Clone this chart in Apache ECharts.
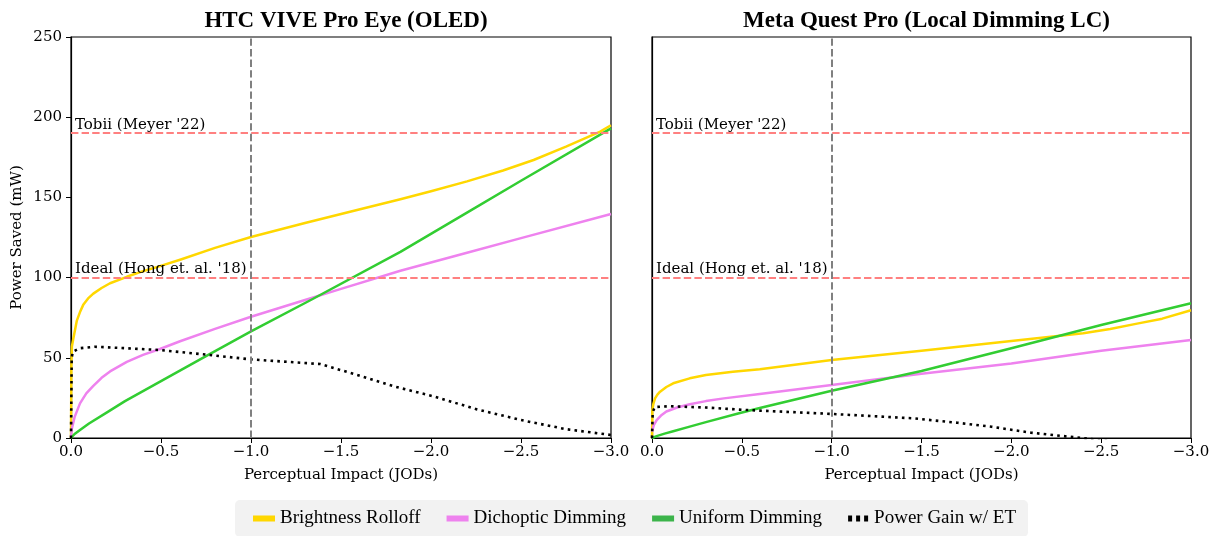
<!DOCTYPE html>
<html>
<head>
<meta charset="utf-8">
<script src="https://cdn.jsdelivr.net/npm/echarts@6/dist/echarts.min.js"></script>
<style>
html,body{margin:0;padding:0;background:#fff;}
#chart{width:1214px;height:536px;}
</style>
</head>
<body>
<div id="chart"></div>
<script>
// ---------- data ----------
const panelTitles = ['HTC VIVE Pro Eye (OLED)', 'Meta Quest Pro (Local Dimming LC)'];
const seriesNames = ['Brightness Rolloff', 'Dichoptic Dimming', 'Uniform Dimming', 'Power Gain w/ ET'];
const xMin = -3, xMax = 0, xStep = 0.5;
const yMin = 0, yMax = 250, yStep = 50;
const tobiiLevel = 190;
const idealLevel = 100;
const jodMark = -1.0;
const tobiiLabel = "Tobii (Meyer '22)";
const idealLabel = "Ideal (Hong et. al. '18)";

// HTC VIVE Pro Eye
const htcRolloff = [[0,0],[-0.002,45],[-0.005,57],[-0.013,62],[-0.032,73],[-0.05,78.5],[-0.068,83],[-0.095,87],[-0.124,90],[-0.17,93.5],[-0.217,96.5],[-0.31,100.5],[-0.4,104],[-0.49,107],[-0.61,111.3],[-0.8,118.5],[-1.0,125.3],[-1.3,134],[-1.606,142.6],[-1.83,148.8],[-2.0,153.8],[-2.2,160],[-2.4,166.8],[-2.57,173.3],[-2.75,181.6],[-2.94,191],[-3.0,195]];
const htcDichoptic = [[0,1],[-0.005,6],[-0.02,13],[-0.05,21.6],[-0.085,27.8],[-0.124,32.5],[-0.17,37.5],[-0.217,41.5],[-0.31,47.5],[-0.40,51.8],[-0.494,55.5],[-0.606,60.3],[-0.8,68],[-1.0,75.6],[-1.3,86],[-1.5,93],[-1.83,104.3],[-2.2,115.5],[-2.5,124.6],[-3.0,139.7]];
const htcUniform = [[0,0],[-0.02,2.5],[-0.05,5],[-0.1,9],[-0.2,16],[-0.3,23],[-0.5,35.5],[-0.75,51],[-1.0,66.5],[-1.34,86.5],[-1.83,116],[-2.2,140.5],[-2.5,160.4],[-3.0,193]];
const htcGain = [[0,0],[-0.004,50],[-0.01,53.8],[-0.05,56],[-0.133,56.9],[-0.3,56],[-0.485,54.9],[-0.75,52],[-1.0,49],[-1.2,47.5],[-1.385,46.1],[-1.6,39],[-1.8,32],[-2.02,25.8],[-2.25,18],[-2.5,11.2],[-2.75,5.5],[-3.0,1.9]];

// Meta Quest Pro
const questRolloff = [[0,0],[-0.002,17.5],[-0.008,21.5],[-0.017,24.7],[-0.03,27],[-0.045,28.9],[-0.08,31.8],[-0.118,34.1],[-0.21,37.2],[-0.3,39.3],[-0.45,41.3],[-0.6,42.8],[-1.0,48.6],[-1.5,54.4],[-2.0,60.5],[-2.4,65.3],[-2.55,68],[-2.7,71.3],[-2.84,74.4],[-3.0,79.6]];
const questDichoptic = [[0,4],[-0.01,8],[-0.026,11.2],[-0.05,14],[-0.08,16.5],[-0.14,19],[-0.21,21],[-0.3,23],[-0.4,24.7],[-0.6,27.5],[-1.0,33],[-1.5,40],[-2.0,46.5],[-2.5,54.4],[-3.0,61.1]];
const questUniform = [[0,0],[-0.03,1.3],[-0.07,2.7],[-0.118,4.2],[-0.2,6.8],[-0.3,9.9],[-0.49,15.6],[-0.6,18.7],[-1.0,29.5],[-1.5,41.8],[-2.0,55.9],[-2.5,70.4],[-3.0,84]];
const questGain = [[0,0],[-0.004,16],[-0.015,19.3],[-0.1,19.8],[-0.3,19],[-0.5,17.6],[-1.0,15],[-1.45,12.3],[-1.7,9.5],[-1.89,7],[-2.11,3.3],[-2.39,0],[-2.6,-2.5]];

const panelData = [
  [htcRolloff, htcDichoptic, htcUniform, htcGain],
  [questRolloff, questDichoptic, questUniform, questGain]
];

// ---------- styles ----------
const colors = ['#FFD700', '#EE82EE', '#32CD32', '#000000'];
const serif = 'DejaVu Serif';
const times = 'Liberation Serif';

const grids = [
  {left: 71, top: 37, width: 540, height: 401},
  {left: 652, top: 37, width: 539, height: 401}
];

function fmtX(v){
  if (Math.abs(v) < 1e-9) return '0.0';
  return (v < 0 ? '\u2212' : '') + Math.abs(v).toFixed(1);
}

const xAxes = grids.map((g, i) => ({
  type: 'value', gridIndex: i, min: xMin, max: xMax, interval: xStep, inverse: true,
  axisLine: {show: true, onZero: false, lineStyle: {color: '#000', width: 1.2}},
  axisTick: {show: true, length: 5, lineStyle: {color: '#000', width: 1}},
  axisLabel: {formatter: fmtX, fontFamily: serif, fontSize: 15, color: '#000', margin: 7, showMinLabel: true, showMaxLabel: true},
  splitLine: {show: false},
  name: 'Perceptual Impact (JODs)', nameLocation: 'middle', nameGap: 30,
  nameTextStyle: {fontFamily: serif, fontSize: 15, color: '#000'}
}));

const yAxes = grids.map((g, i) => ({
  type: 'value', gridIndex: i, min: yMin, max: yMax, interval: yStep,
  axisLine: {show: true, onZero: false, lineStyle: {color: '#000', width: 1.2}},
  axisTick: {show: i === 0, length: 5, lineStyle: {color: '#000', width: 1}},
  axisLabel: {show: i === 0, fontFamily: serif, fontSize: 15, color: '#000', margin: 9},
  splitLine: {show: false},
  name: i === 0 ? 'Power Saved (mW)' : '', nameLocation: 'middle', nameGap: 46,
  nameTextStyle: {fontFamily: serif, fontSize: 15, color: '#000'}
}));

function refLines(){
  const red = {color: '#ff8080', width: 2, type: [7.4, 3.2]};
  const grey = {color: '#808080', width: 2, type: [7.4, 3.2]};
  const lbl = (t) => ({show: true, position: 'insideStartTop', formatter: t, fontFamily: serif, fontSize: 15, color: '#000', distance: [4, 1]});
  return {
    silent: true, symbol: 'none', animation: false,
    label: {show: false},
    data: [
      [{coord: [xMax, tobiiLevel], lineStyle: red, label: lbl(tobiiLabel)}, {coord: [xMin, tobiiLevel]}],
      [{coord: [xMax, idealLevel], lineStyle: red, label: lbl(idealLabel)}, {coord: [xMin, idealLevel]}],
      [{coord: [jodMark, yMin], lineStyle: grey, label: {show: false}}, {coord: [jodMark, yMax]}]
    ]
  };
}

const series = [];
panelData.forEach((arr, p) => {
  arr.forEach((d, k) => {
    const s = {
      name: seriesNames[k], type: 'line', xAxisIndex: p, yAxisIndex: p,
      data: d, showSymbol: false, symbol: 'none', smooth: false,
      clip: true, animation: false, z: k === 3 ? 4 : 3,
      lineStyle: k === 3 ? {color: colors[k], width: 2.6, type: [2.6, 4.2], cap: 'butt'} : {color: colors[k], width: 2.5, join: 'round'},
      itemStyle: {color: colors[k]}
    };
    if (k === 0) s.markLine = refLines();
    series.push(s);
  });
});

const dotIcon = 'path://M0,0h4v6h-4z M8,0h4v6h-4z M16,0h4v6h-4z';

const option = {
  backgroundColor: '#fff',
  animation: false,
  title: panelTitles.map((t, i) => ({
    text: t, left: grids[i].left + grids[i].width / 2, textAlign: 'center', top: 5,
    textStyle: {fontFamily: times, fontWeight: 'bold', fontSize: 23, color: '#000'}
  })),
  grid: grids.map(g => Object.assign({show: true, borderColor: '#000', borderWidth: 1.2, backgroundColor: 'transparent'}, g)),
  xAxis: xAxes,
  yAxis: yAxes,
  legend: {
    left: 235, top: 500, orient: 'horizontal',
    backgroundColor: '#f2f2f2', borderRadius: 5, padding: [9, 12, 9, 18],
    itemWidth: 22, itemHeight: 6, itemGap: 26,
    textStyle: {fontFamily: times, fontSize: 19, color: '#000'},
    data: [
      {name: seriesNames[0], icon: 'rect', itemStyle: {color: '#FFD700'}},
      {name: seriesNames[1], icon: 'rect', itemStyle: {color: '#EE82EE'}},
      {name: seriesNames[2], icon: 'rect', itemStyle: {color: '#3cb44b'}},
      {name: seriesNames[3], icon: dotIcon, itemStyle: {color: '#000'}}
    ]
  },
  series: series
};

const chart = echarts.init(document.getElementById('chart'), null, {renderer: 'canvas'});
chart.setOption(option);
</script>
</body>
</html>
